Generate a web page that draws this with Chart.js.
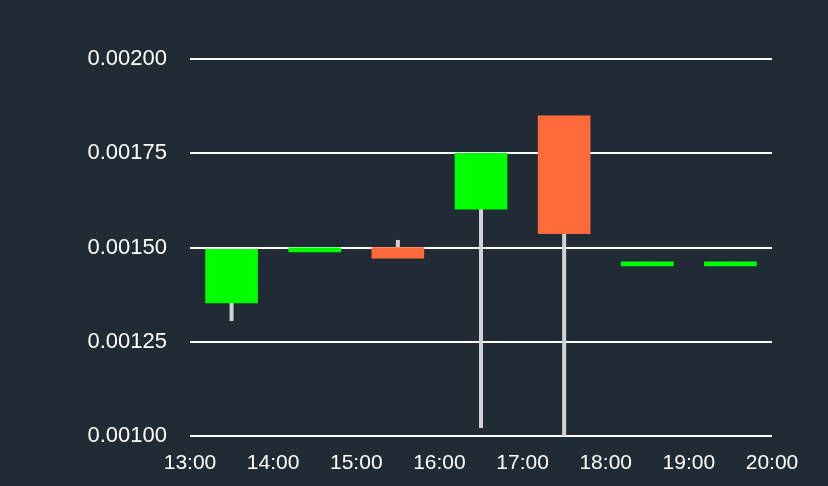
<!DOCTYPE html>
<html>
<head>
<meta charset="utf-8">
<script src="https://cdn.jsdelivr.net/npm/chart.js@4/dist/chart.umd.min.js"></script>
<style>
  html, body { margin: 0; padding: 0; background: #202b36; }
  #wrap { width: 828px; height: 486px; }
</style>
</head>
<body>
<div id="wrap"><canvas id="chart" width="828" height="486"></canvas></div>
<script>
// hourly candles, centred on the half hour
const times = [13.5, 14.5, 15.5, 16.5, 17.5, 18.5, 19.5];
const opens = [0.001353, 0.001488, 0.001500, 0.001602, 0.001849, 0.001451, 0.001451];
const closes = [0.001495, 0.001499, 0.001472, 0.001750, 0.001537, 0.001462, 0.001462];
const highs = [0.001495, 0.001499, 0.001520, 0.001750, 0.001849, 0.001462, 0.001462];
const lows = [0.001305, 0.001488, 0.001472, 0.001021, 0.000950, 0.001451, 0.001451];
const yTicks = [0.001, 0.00125, 0.0015, 0.00175, 0.002];

const UP = "#00ff00";
const DOWN = "#ff6a3b";
const WICK = "#d2d2d2";

const bodies = times.map((t, i) => ({ x: t, y: [opens[i], closes[i]] }));
const wicks = times.map((t, i) => ({ x: t, y: [lows[i], highs[i]] }));
const bodyColors = times.map((t, i) => (closes[i] >= opens[i] ? UP : DOWN));

const font = { family: '"Liberation Sans", Arial, Helvetica, sans-serif', size: 21 };

new Chart(document.getElementById("chart"), {
  type: "bar",
  data: {
    datasets: [
      {
        data: wicks,
        backgroundColor: WICK,
        barThickness: 4,
        inflateAmount: 0,
        grouped: false,
        order: 2
      },
      {
        data: bodies,
        backgroundColor: bodyColors,
        barThickness: 52,
        grouped: false,
        order: 1
      }
    ]
  },
  options: {
    responsive: false,
    animation: false,
    layout: { padding: { top: 59, right: 56, left: 0, bottom: 0 } },
    plugins: { legend: { display: false }, tooltip: { enabled: false } },
    scales: {
      x: {
        type: "linear",
        min: 13,
        max: 20,
        offset: false,
        grid: { display: false, drawTicks: false },
        border: { display: false },
        ticks: {
          stepSize: 1,
          color: "#ffffff",
          font,
          padding: 15,
          maxRotation: 0,
          callback: (v) => `${v}:00`
        },
        afterFit: (s) => { s.height = 50; }
      },
      y: {
        min: 0.001,
        max: 0.002,
        grid: { color: "#ffffff", lineWidth: 2, drawTicks: false },
        border: { display: false },
        afterBuildTicks: (s) => { s.ticks = yTicks.map((v) => ({ value: v })); },
        ticks: {
          color: "#ffffff",
          font: { ...font, size: 22 },
          padding: 23,
          callback: (v) => v.toFixed(5)
        },
        afterFit: (s) => { s.width = 190; }
      }
    }
  }
});
</script>
</body>
</html>
